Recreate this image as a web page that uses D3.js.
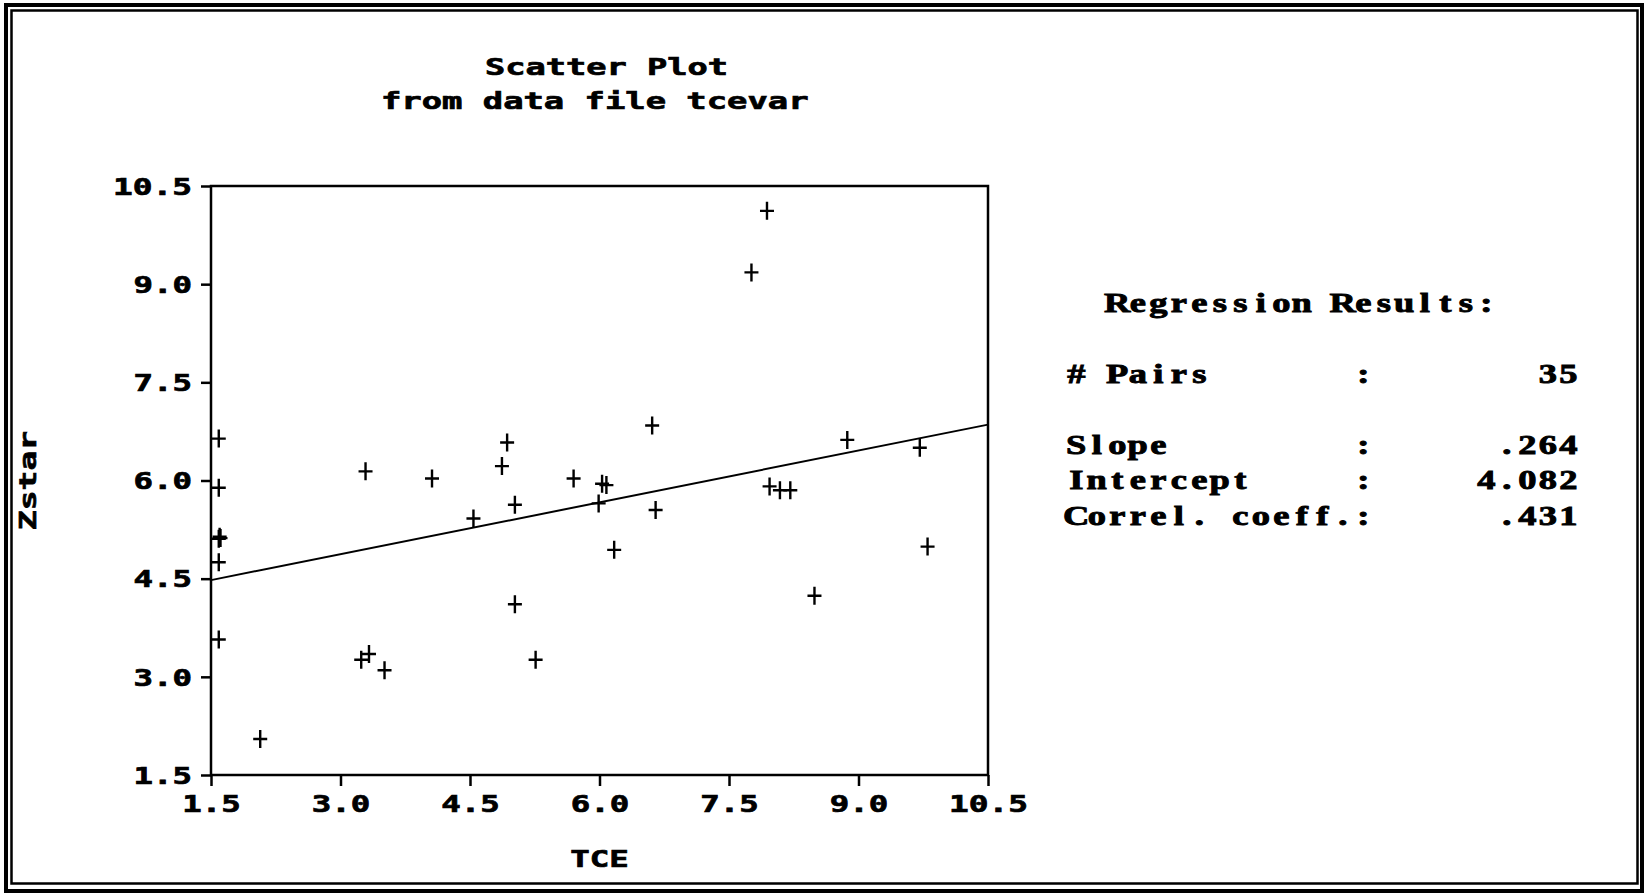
<!DOCTYPE html>
<html>
<head>
<meta charset="utf-8">
<script src="https://cdn.jsdelivr.net/npm/d3@7"></script>
<style>
  html, body { margin: 0; padding: 0; background: #fff; }
  svg { display: block; }
</style>
</head>
<body>
<svg id="chart" width="1646" height="896"></svg>
<script>
// TCE / Zstar pairs
const tce   = [1.59, 1.59, 1.59, 1.60, 1.61, 1.59, 1.59, 2.07, 3.29, 3.24, 3.33, 3.51,
               4.06, 4.54, 4.87, 4.93, 5.02, 5.02, 5.26, 5.70, 6.61, 6.03, 6.08, 5.99,
               6.65, 6.17, 7.97, 8.09, 8.21, 8.87, 9.71, 9.80, 8.49, 7.94, 7.76];
const zstar = [6.64, 5.89, 5.11, 5.14, 5.12, 4.75, 3.57, 2.05, 6.14, 3.26, 3.35, 3.10,
               6.03, 5.42, 6.22, 6.58, 5.63, 4.11, 3.26, 6.03, 6.84, 5.95, 5.93, 5.65,
               5.55, 4.94, 5.91, 5.85, 5.85, 6.62, 6.50, 4.99, 4.24, 10.12, 9.18];

// Axis ticks
const xTicks = [1.5, 3.0, 4.5, 6.0, 7.5, 9.0, 10.5];
const xTickLabels = ["1.5", "3.0", "4.5", "6.0", "7.5", "9.0", "10.5"];
const yTicks = [1.5, 3.0, 4.5, 6.0, 7.5, 9.0, 10.5];
const yTickLabels = ["1.5", "3.0", "4.5", "6.0", "7.5", "9.0", "10.5"];

// Regression summary
const statLabels = ["# Pairs", "Slope", "Intercept", "Correl. coeff."];
const statValues = ["35", ".264", "4.082", ".431"];
const slope = 0.264;
const intercept = 4.082;

const svg = d3.select("#chart");
const PITCH = 20.5;          // character cell width of the screen font
const SANS = "'DejaVu Sans Mono', monospace";
const SERIF = "'Liberation Serif', 'Times New Roman', serif";

// monospaced text stretched onto the character grid
function gridText(sel, str, font, size, weight) {
  return sel.text(str)
    .attr("font-family", font)
    .attr("font-weight", "bold")
    .attr("font-size", size)
    .attr("fill", "#000")
    .attr("stroke", "#000")
    .attr("stroke-width", weight)
    .attr("textLength", str.length * PITCH - 3)
    .attr("lengthAdjust", "spacingAndGlyphs");
}

// serif text with every glyph centred in its own grid cell
function cellText(x0, baseline, str) {
  const sx = 1.35;
  const xs = Array.from(str, (c, i) => (((i + 0.5) * PITCH) / sx).toFixed(2)).join(" ");
  return svg.append("text")
    .attr("transform", `translate(${x0},${baseline}) scale(${sx},1)`)
    .attr("x", xs).attr("y", 0)
    .attr("text-anchor", "middle")
    .attr("font-family", SERIF)
    .attr("font-weight", "bold")
    .attr("font-size", 27)
    .attr("fill", "#000")
    .attr("stroke", "#000")
    .attr("stroke-width", 0.9)
    .text(str);
}

// double frame around the screen
svg.append("rect").attr("x", 6).attr("y", 5).attr("width", 1636).attr("height", 886)
  .attr("fill", "none").attr("stroke", "#000").attr("stroke-width", 4);
svg.append("rect").attr("x", 11.5).attr("y", 10.5).attr("width", 1626).attr("height", 873)
  .attr("fill", "none").attr("stroke", "#000").attr("stroke-width", 2.5);

// plot area
const plotLeft = 211, plotRight = 988, plotTop = 186, plotBottom = 775;
const x = d3.scaleLinear().domain([1.5, 10.5]).range([plotLeft, plotRight]);
const y = d3.scaleLinear().domain([1.5, 10.5]).range([plotBottom, plotTop]);

// titles
gridText(svg.append("text").attr("x", 485).attr("y", 74.5), "Scatter Plot", SANS, 23, 0.7);
gridText(svg.append("text").attr("x", 381).attr("y", 108.5), "from data file tcevar", SANS, 23, 0.7);

// x axis
const xAxis = d3.axisBottom(x).tickValues(xTicks).tickSize(11).tickSizeOuter(0)
  .tickFormat((d, i) => xTickLabels[i]);
const gx = svg.append("g").attr("transform", `translate(0,${plotBottom})`).call(xAxis);
gx.select(".domain").remove();
gx.selectAll(".tick line").attr("stroke", "#000").attr("stroke-width", 2.5);
gx.selectAll(".tick text").each(function(d, i) {
  gridText(d3.select(this).attr("y", 36.5).attr("dy", null).attr("text-anchor", "middle"),
           xTickLabels[i], SANS, 23, 0.7);
});

// y axis
const yAxis = d3.axisLeft(y).tickValues(yTicks).tickSize(10).tickSizeOuter(0)
  .tickFormat((d, i) => yTickLabels[i]);
const gy = svg.append("g").attr("transform", `translate(${plotLeft},0)`).call(yAxis);
gy.select(".domain").remove();
gy.selectAll(".tick line").attr("stroke", "#000").attr("stroke-width", 2.5);
gy.selectAll(".tick text").each(function(d, i) {
  gridText(d3.select(this).attr("x", -19).attr("dy", "0.36em").attr("text-anchor", "end"),
           yTickLabels[i], SANS, 23, 0.7);
});

// plot frame
svg.append("rect").attr("x", plotLeft).attr("y", plotTop)
  .attr("width", plotRight - plotLeft).attr("height", plotBottom - plotTop)
  .attr("fill", "none").attr("stroke", "#000").attr("stroke-width", 2.5);

// axis titles
gridText(svg.append("text").attr("x", (plotLeft + plotRight) / 2).attr("y", 867)
  .attr("text-anchor", "middle"), "TCE", SANS, 23, 0.7);
gridText(svg.append("text").attr("text-anchor", "middle")
  .attr("transform", `translate(36,${(plotTop + plotBottom) / 2}) rotate(-90)`), "Zstar", SANS, 23, 0.7);

// fitted line
const fit = d3.line().x(d => x(d)).y(d => y(intercept + slope * d));
svg.append("path").datum([1.5, 10.5]).attr("d", fit)
  .attr("fill", "none").attr("stroke", "#000").attr("stroke-width", 2);

// data points as crosses
const pts = tce.map((t, i) => [t, zstar[i]]);
svg.append("g").selectAll("path").data(pts).join("path")
  .attr("transform", d => `translate(${x(d[0])},${y(d[1])})`)
  .attr("d", "M-7,0H7M0,-9V9")
  .attr("fill", "none").attr("stroke", "#000").attr("stroke-width", 2.4);

// regression results panel
const col0 = 1066;
const colonX = col0 + 14 * PITCH;
const valueRight = col0 + 25 * PITCH;
cellText(col0 + 2 * PITCH, 312, "Regression Results:");
const rowY = [383, 454, 489, 525];
statLabels.forEach((lab, i) => {
  cellText(col0, rowY[i], lab);
  cellText(colonX, rowY[i], ":");
  cellText(valueRight - statValues[i].length * PITCH, rowY[i], statValues[i]);
});
</script>
</body>
</html>
